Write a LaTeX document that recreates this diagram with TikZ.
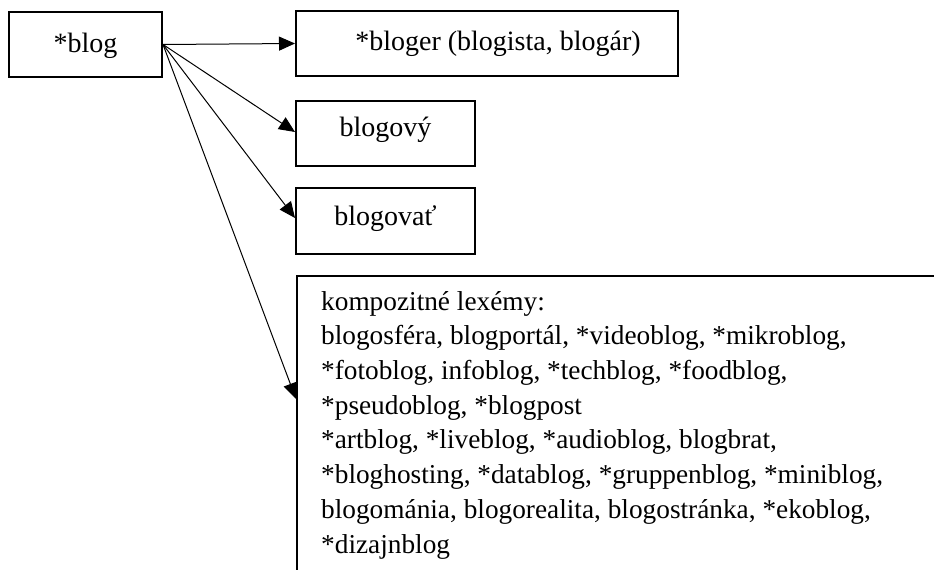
\documentclass[tikz,border=0pt]{standalone}
\usepackage{fontspec}
\setmainfont{Liberation Serif}
\usetikzlibrary{arrows.meta}
\begin{document}
\begin{tikzpicture}[x=1pt,y=-1pt,
  box/.style={draw=black, line width=2pt, inner sep=0pt,
    font=\fontsize{28pt}{34.7pt}\selectfont, text height=19pt, text depth=6pt},
  bigbox/.style={draw=black, line width=2pt, inner sep=0pt},
  bigtext/.style={inner sep=0pt, align=left, font=\fontsize{27.3pt}{34.7pt}\selectfont},
  arr/.style={-{Triangle[length=16pt,width=14pt]}, line width=1pt}]
\useasboundingbox (0,0) rectangle (934,570);
\clip (0,0) rectangle (934,570);
\fill[white] (0,0) rectangle (934,570);
\node[box, minimum width=153pt, minimum height=65pt, text depth=4pt] (blog) at (85.5,44.5) {*blog};
\node[box, minimum width=382pt, minimum height=65pt] (bloger) at (487,43.5) {\hspace*{22pt}*bloger (blogista, blogár)};
\node[box, minimum width=179pt, minimum height=65pt, text depth=14pt] (blogovy) at (385.5,133.5) {blogový};
\node[box, minimum width=179pt, minimum height=66pt, text depth=11pt] (blogovat) at (385.5,221) {blogovať};
\node[bigbox, minimum width=800pt, minimum height=400pt, anchor=north west] (big) at (296,275) {};
\node[bigtext, anchor=north west] (comp) at (321,291) {kompozitné lexémy:\\
blogosféra, blogportál, *videoblog, *mikroblog,\\
*fotoblog, infoblog, *techblog, *foodblog,\\
*pseudoblog, *blogpost\\
*artblog, *liveblog, *audioblog, blogbrat,\\
*bloghosting, *datablog, *gruppenblog, *miniblog,\\
blogománia, blogorealita, blogostránka, *ekoblog,\\
*dizajnblog};
\draw[arr] (blog.east) -- (bloger.west);
\draw[arr] (blog.east) -- ([yshift=1.5pt]blogovy.west);
\draw[arr] (blog.east) -- ([yshift=3pt]blogovat.west);
\draw[arr] (blog.east) -- ([yshift=-124pt]big.north west);
\end{tikzpicture}
\end{document}
